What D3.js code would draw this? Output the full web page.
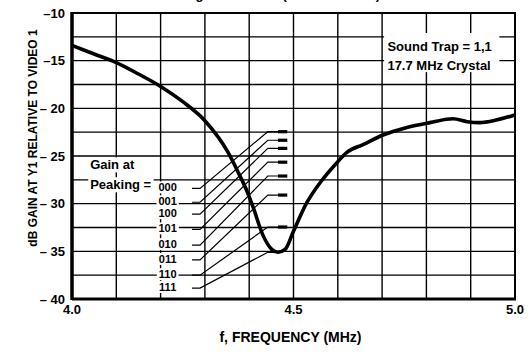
<!DOCTYPE html>
<html lang="en">
<head>
<meta charset="utf-8">
<title>Gain at Y1 vs frequency</title>
<script src="https://d3js.org/d3.v7.min.js"></script>
<style>
	body {
		margin: 0px;
		padding: 0px;
		background: #fff;
	}

	text {
		font-family: "Liberation Sans", Arial, Helvetica, sans-serif;
		font-weight: bold;
		fill: #000;
	}
</style>
</head>
<body>
<div id="chart"></div>
<script>

	// Response curve, frequency (MHz) and gain (dB)
	var freq = [4.00, 4.05, 4.10, 4.15, 4.20, 4.25, 4.30, 4.352, 4.375, 4.395, 4.409, 4.431, 4.451, 4.465, 4.481, 4.499,
		4.530, 4.560, 4.598, 4.621, 4.657, 4.702, 4.756, 4.808, 4.860, 4.892, 4.920, 4.960, 5.00];
	var gain = [-13.4, -14.3, -15.2, -16.4, -17.7, -19.3, -21.3, -24.6, -26.7, -28.7, -30.4, -33.3, -34.8, -35.1, -34.8, -33.0,
		-29.9, -27.8, -25.7, -24.6, -23.8, -22.8, -22.0, -21.5, -21.1, -21.4, -21.5, -21.2, -20.7];

	// Peaking codes with where the leaders start (label level) and end (peak level), dB
	var peakCodes = ["000", "001", "100", "101", "010", "011", "110", "111"];
	var codeLevel = [-28.4, -29.85, -31.1, -32.7, -34.35, -35.9, -37.5, -38.85];
	var peakLevel = [-22.45, -23.35, -24.2, -25.65, -27.1, -29.1, -32.45, -35.1];

	// Axes
	var xTickValues = [4.0, 4.5, 5.0];
	var xTickLabels = ["4.0", "4.5", "5.0"];
	var yTickValues = [-10, -15, -20, -25, -30, -35, -40];
	var yTickLabels = ["–10", "–15", "– 20", "– 25", "– 30", "– 35", "– 40"];
	var xGrid = d3.range(0, 11).map(function (i) { return 4 + i * 0.1; });
	var yGrid = d3.range(0, 13).map(function (i) { return -10 - i * 2.5; });

	var chartTitle = "Luminance Filtering Attenuation (4.5 MHz Notch)";
	var xTitle = "f, FREQUENCY (MHz)";
	var yTitle = "dB GAIN AT Y1 RELATIVE TO VIDEO 1";
	var noteLines = ["Sound Trap = 1,1", "17.7 MHz Crystal"];
	var gainLines = ["Gain at", "Peaking ="];

	// Layout
	var W = 531, H = 354;
	var margin = { top: 13, right: 16, bottom: 55, left: 72 };

	var svg = d3.select("#chart").append("svg")
		.attr("width", W)
		.attr("height", H);

	var x = d3.scaleLinear().domain([4.0, 5.0]).range([margin.left, W - margin.right]);
	var y = d3.scaleLinear().domain([-10, -40]).range([margin.top, H - margin.bottom]);

	// title, only its lower edge is inside the picture
	svg.append("text")
		.attr("x", 80)
		.attr("y", -1.5)
		.style("font-size", "13px")
		.text(chartTitle);

	// grid
	var grid = svg.append("g");
	grid.selectAll("line.v").data(xGrid).enter().append("line")
		.attr("class", "v")
		.attr("x1", function (d) { return x(d); })
		.attr("x2", function (d) { return x(d); })
		.attr("y1", y(-10))
		.attr("y2", y(-40))
		.attr("stroke", "#000")
		.attr("stroke-width", 1.4);
	grid.selectAll("line.h").data(yGrid).enter().append("line")
		.attr("class", "h")
		.attr("x1", x(4.0))
		.attr("x2", x(5.0))
		.attr("y1", function (d) { return y(d); })
		.attr("y2", function (d) { return y(d); })
		.attr("stroke", "#000")
		.attr("stroke-width", 1.4);

	// white patch behind the note
	svg.append("rect")
		.attr("x", x(4.7) + 2)
		.attr("y", y(-12.1))
		.attr("width", x(4.96) - x(4.7))
		.attr("height", y(-16.2) - y(-12.1))
		.attr("fill", "#fff");

	// frame
	var frame = svg.append("g");
	frame.append("line").attr("x1", x(4.0)).attr("x2", x(4.0)).attr("y1", y(-10) - 1).attr("y2", y(-40) + 1)
		.attr("stroke", "#000").attr("stroke-width", 3.5);
	frame.append("line").attr("x1", x(4.0)).attr("x2", x(5.0) + 1).attr("y1", y(-40)).attr("y2", y(-40))
		.attr("stroke", "#000").attr("stroke-width", 3);
	frame.append("line").attr("x1", x(4.0)).attr("x2", x(5.0) + 1).attr("y1", y(-10)).attr("y2", y(-10))
		.attr("stroke", "#000").attr("stroke-width", 2);
	frame.append("line").attr("x1", x(5.0)).attr("x2", x(5.0)).attr("y1", y(-10)).attr("y2", y(-40))
		.attr("stroke", "#000").attr("stroke-width", 2);

	// tick labels
	svg.selectAll("text.ytick").data(yTickValues).enter().append("text")
		.attr("class", "ytick")
		.attr("x", margin.left - 7)
		.attr("y", function (d) { return y(d) + 4.5; })
		.attr("text-anchor", "end")
		.style("font-size", "13px")
		.text(function (d, i) { return yTickLabels[i]; });

	svg.selectAll("text.xtick").data(xTickValues).enter().append("text")
		.attr("class", "xtick")
		.attr("x", function (d) { return x(d); })
		.attr("y", H - margin.bottom + 15)
		.attr("text-anchor", "middle")
		.style("font-size", "13px")
		.text(function (d, i) { return xTickLabels[i]; });

	// axis titles
	svg.append("text")
		.attr("x", (x(4.0) + x(5.0)) / 2 - 3)
		.attr("y", 342)
		.attr("text-anchor", "middle")
		.style("font-size", "14px")
		.text(xTitle);

	svg.append("text")
		.attr("transform", "translate(37," + 138 + ") rotate(-90)")
		.attr("text-anchor", "middle")
		.style("font-size", "12px")
		.text(yTitle);

	// note at top right
	svg.selectAll("text.note").data(noteLines).enter().append("text")
		.attr("class", "note")
		.attr("x", x(4.712))
		.attr("y", function (d, i) { return y(-14.0) + i * 19; })
		.style("font-size", "13px")
		.text(function (d) { return d; });

	// labels with a white background
	function labelWithBack(g, tx, ty, str, size, anchor) {
		var t = g.append("text")
			.attr("x", tx)
			.attr("y", ty)
			.attr("text-anchor", anchor)
			.style("font-size", size)
			.text(str);
		var b = t.node().getBBox();
		g.insert("rect", "text")
			.attr("x", b.x - 2)
			.attr("y", b.y)
			.attr("width", b.width + 4)
			.attr("height", b.height)
			.attr("fill", "#fff");
	}

	var labels = svg.append("g");
	gainLines.forEach(function (s, i) {
		labelWithBack(labels, x(4.041), y(-26.4) + i * 20, s, "13px", "start");
	});
	peakCodes.forEach(function (c, i) {
		labelWithBack(labels, x(4.216), y(codeLevel[i]) + 3, c, "11px", "middle");
	});

	// leader lines from each code to its peak level
	var xs0 = 4.271, xs1 = 4.289, xd = 4.442, xm0 = 4.465, xm1 = 4.486;
	var leaders = svg.append("g");
	peakCodes.forEach(function (c, i) {
		var pts = [[xs0, codeLevel[i]], [xs1, codeLevel[i]], [xd, peakLevel[i]], [xm0, peakLevel[i]]];
		leaders.append("path")
			.attr("d", d3.line().x(function (p) { return x(p[0]); }).y(function (p) { return y(p[1]); })(pts))
			.attr("fill", "none")
			.attr("stroke", "#000")
			.attr("stroke-width", 1.2);
		if (i < peakCodes.length - 1) {
			leaders.append("line")
				.attr("x1", x(xm0))
				.attr("x2", x(xm1))
				.attr("y1", y(peakLevel[i]))
				.attr("y2", y(peakLevel[i]))
				.attr("stroke", "#000")
				.attr("stroke-width", 3.2);
		}
	});

	// response curve
	var curve = d3.line()
		.x(function (d, i) { return x(freq[i]); })
		.y(function (d, i) { return y(gain[i]); })
		.curve(d3.curveMonotoneX);

	svg.append("path")
		.attr("d", curve(freq))
		.attr("fill", "none")
		.attr("stroke", "#000")
		.attr("stroke-width", 3.6)
		.attr("stroke-linejoin", "round");

</script>
</body>
</html>
